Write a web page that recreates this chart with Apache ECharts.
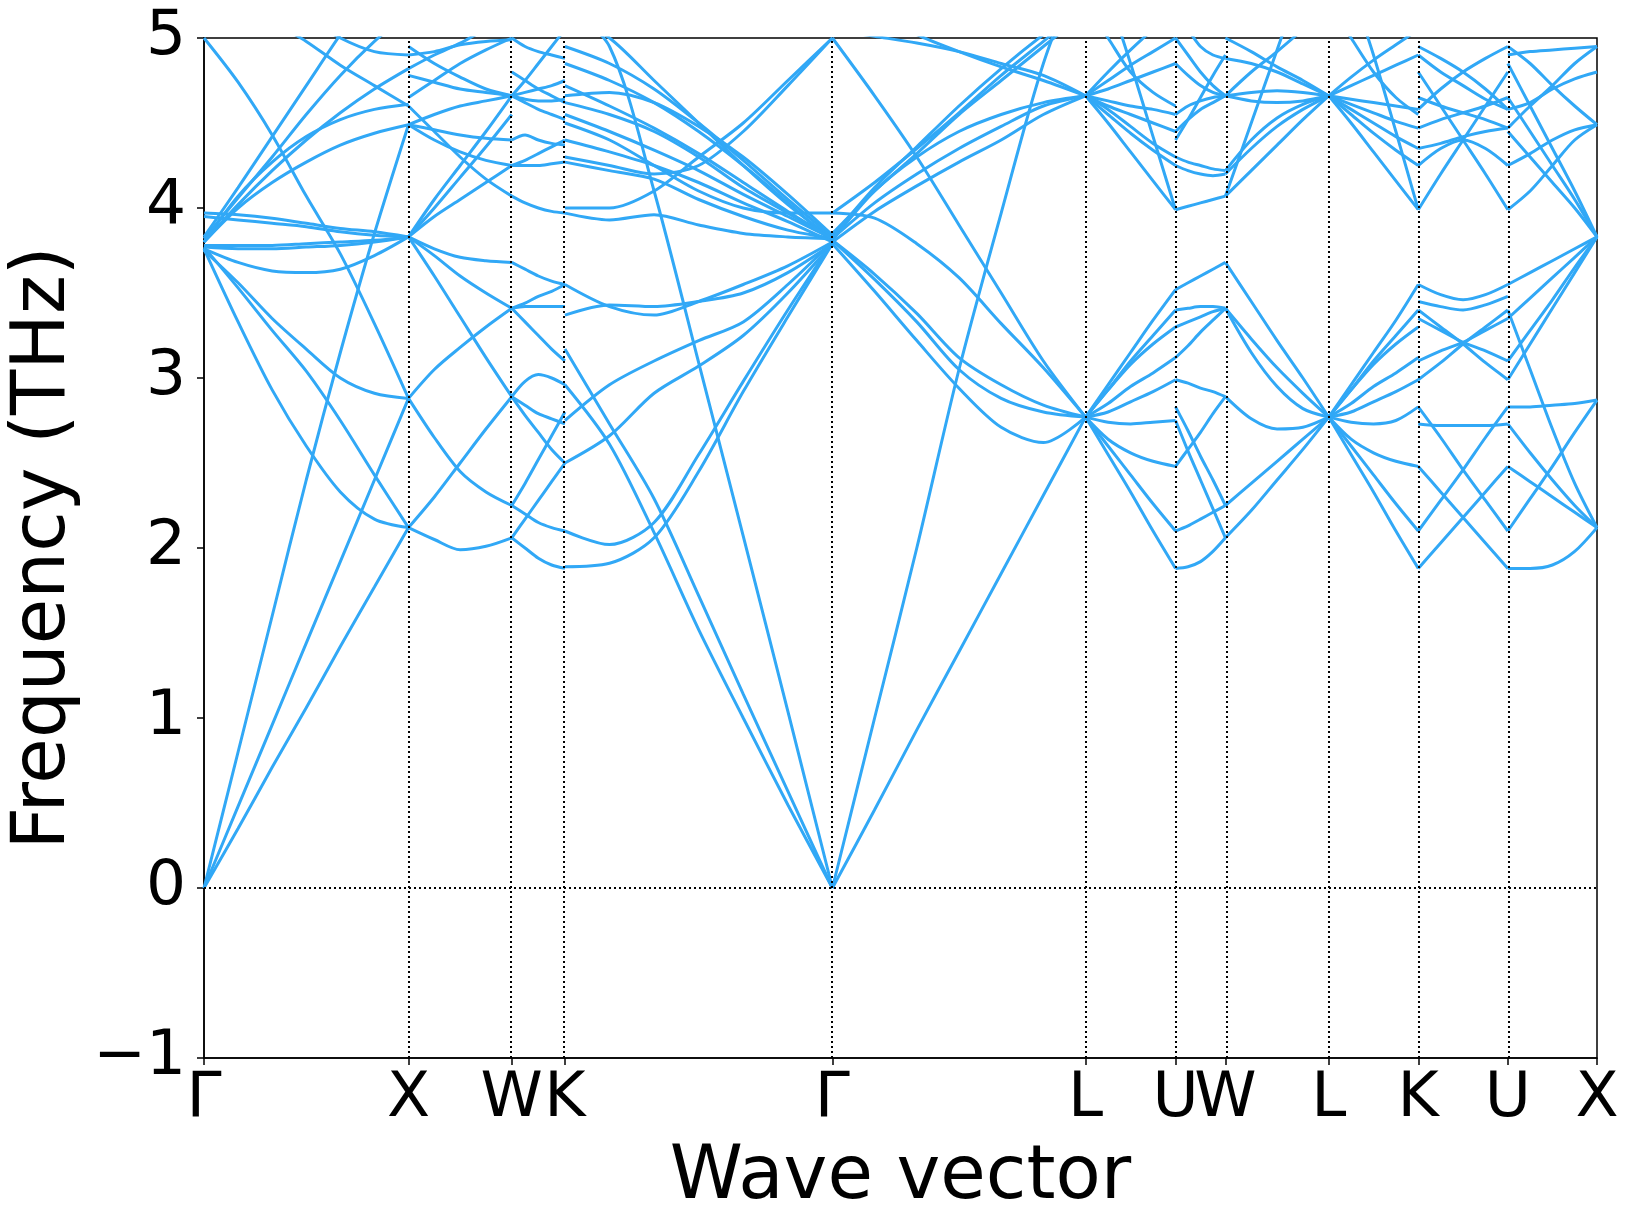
<!DOCTYPE html>
<html>
<head>
  <meta charset="utf-8" />
  <title>Phonon bands</title>
  <script src="https://cdn.jsdelivr.net/npm/echarts@6/dist/echarts.min.js"></script>
</head>
<body style="margin: 0; background: #ffffff">
  <div id="main" style="width: 1635px; height: 1229px;"></div>
  <script type="text/javascript">
    // high-symmetry points along the path (x in units of the G-X length)
    var kLabels = ['\u0393', 'X', 'W', 'K', '\u0393', 'L', 'U', 'W', 'L', 'K', 'U', 'X'];
    var kPos = [0, 1.000, 1.505, 1.765, 3.073, 4.311, 4.751, 4.995, 5.500, 5.938, 6.376, 6.812];

    // frequencies (THz) read at evenly spaced points along each segment
    var bandsGX = [
      [0, 0.35, 0.71, 1.06, 1.42, 1.77, 2.12],
      [0, 0.48, 0.96, 1.44, 1.92, 2.40, 2.88],
      [0, 0.80, 1.60, 2.40, 3.15, 3.85, 4.49],
      [5.0, 4.74, 4.43, 4.07, 3.73, 3.32, 2.88],
      [3.76, 3.33, 2.93, 2.60, 2.33, 2.17, 2.12],
      [3.77, 3.53, 3.28, 3.04, 2.75, 2.43, 2.12],
      [3.75, 3.56, 3.35, 3.17, 3.00, 2.91, 2.88],
      [3.97, 3.96, 3.94, 3.91, 3.88, 3.86, 3.83],
      [3.95, 3.93, 3.91, 3.89, 3.86, 3.84, 3.83],
      [3.78, 3.78, 3.78, 3.79, 3.80, 3.81, 3.83],
      [3.77, 3.76, 3.76, 3.77, 3.78, 3.80, 3.83],
      [3.76, 3.68, 3.63, 3.62, 3.64, 3.72, 3.83],
      [3.80, 4.00, 4.15, 4.27, 4.37, 4.44, 4.49],
      [3.80, 4.07, 4.27, 4.42, 4.52, 4.58, 4.61],
      [3.80, 4.02, 4.22, 4.40, 4.56, 4.70, 4.82],
      [3.82, 4.06, 4.30, 4.55, 4.78, 4.98, 5.15],
      [3.83, 4.12, 4.42, 4.72, 5.02, 5.30, 5.50],
      [5.40, 5.25, 5.10, 4.98, 4.84, 4.72, 4.60],
      [5.50, 5.40, 5.25, 5.12, 5.00, 4.92, 4.90]
    ];
    var bandsXW = [
      [2.12, 2.05, 1.99, 2.01, 2.06],
      [2.12, 2.30, 2.50, 2.70, 2.89],
      [2.88, 2.65, 2.45, 2.33, 2.25],
      [2.88, 3.05, 3.18, 3.30, 3.41],
      [3.83, 3.60, 3.36, 3.12, 2.89],
      [3.83, 3.76, 3.71, 3.69, 3.68],
      [3.83, 3.72, 3.60, 3.50, 3.41],
      [3.83, 3.95, 4.05, 4.15, 4.25],
      [3.83, 4.05, 4.25, 4.45, 4.66],
      [3.83, 4.00, 4.18, 4.36, 4.55],
      [4.49, 4.55, 4.60, 4.63, 4.66],
      [4.60, 4.45, 4.30, 4.17, 4.07],
      [4.49, 4.40, 4.33, 4.28, 4.25],
      [4.78, 4.74, 4.70, 4.68, 4.66],
      [4.95, 4.85, 4.77, 4.70, 4.66],
      [4.65, 4.75, 4.85, 4.93, 5.00],
      [4.82, 4.90, 4.97, 5.05, 5.10],
      [4.90, 4.92, 4.96, 4.98, 4.99],
      [4.49, 4.46, 4.43, 4.41, 4.40]
    ];
    var bandsWK = [
      [2.06, 2.00, 1.94, 1.90, 1.88],
      [2.06, 2.17, 2.28, 2.39, 2.50],
      [2.25, 2.20, 2.15, 2.12, 2.10],
      [2.25, 2.38, 2.52, 2.66, 2.80],
      [2.89, 2.78, 2.68, 2.58, 2.50],
      [2.89, 2.98, 3.02, 3.00, 2.96],
      [2.89, 2.84, 2.79, 2.76, 2.73],
      [3.41, 3.33, 3.25, 3.17, 3.10],
      [3.41, 3.42, 3.42, 3.42, 3.42],
      [3.41, 3.44, 3.48, 3.51, 3.55],
      [3.68, 3.64, 3.60, 3.57, 3.55],
      [4.07, 4.03, 4.00, 3.98, 3.97],
      [4.25, 4.25, 4.25, 4.26, 4.27],
      [4.25, 4.28, 4.32, 4.36, 4.40],
      [4.66, 4.62, 4.58, 4.55, 4.52],
      [4.66, 4.68, 4.70, 4.72, 4.75],
      [4.66, 4.64, 4.63, 4.63, 4.64],
      [4.66, 4.75, 4.85, 4.95, 5.05],
      [5.00, 4.95, 4.92, 4.90, 4.88],
      [4.40, 4.43, 4.40, 4.38, 4.37],
      [4.80, 4.75, 4.70, 4.66, 4.62]
    ];
    var bandsKG = [
      [3.17, 2.73, 2.29, 1.72, 1.14, 0.57, 0],
      [2.96, 2.61, 2.09, 1.52, 1.00, 0.49, 0],
      [5.20, 4.95, 4.10, 3.09, 2.07, 1.04, 0],
      [1.89, 1.91, 2.06, 2.45, 2.92, 3.36, 3.79],
      [2.10, 2.02, 2.15, 2.55, 2.98, 3.40, 3.80],
      [2.50, 2.66, 2.91, 3.07, 3.25, 3.50, 3.79],
      [2.75, 2.96, 3.10, 3.22, 3.33, 3.55, 3.80],
      [3.37, 3.43, 3.42, 3.45, 3.50, 3.62, 3.79],
      [3.55, 3.42, 3.37, 3.45, 3.55, 3.66, 3.80],
      [3.97, 3.93, 3.96, 3.90, 3.85, 3.83, 3.82],
      [4.27, 4.22, 4.17, 4.05, 3.95, 3.87, 3.82],
      [4.40, 4.33, 4.25, 4.15, 4.03, 3.92, 3.80],
      [4.55, 4.45, 4.34, 4.22, 4.08, 3.95, 3.82],
      [4.72, 4.60, 4.47, 4.32, 4.15, 3.98, 3.82],
      [4.85, 4.75, 4.62, 4.45, 4.25, 4.03, 3.80],
      [5.15, 5.00, 4.75, 4.50, 4.25, 4.02, 3.82],
      [4.50, 4.40, 4.25, 4.10, 4.00, 3.97, 3.97],
      [4.30, 4.25, 4.20, 4.25, 4.45, 4.72, 5.00],
      [4.00, 4.00, 4.10, 4.30, 4.50, 4.75, 5.00],
      [4.62, 4.55, 4.45, 4.30, 4.12, 3.97, 3.82],
      [4.95, 4.85, 4.70, 4.50, 4.28, 4.05, 3.83],
      [4.66, 4.68, 4.62, 4.48, 4.30, 4.08, 3.84]
    ];
    var bandsGL = [
      [0, 0.46, 0.93, 1.39, 1.85, 2.31, 2.77],
      [0, 1.00, 2.00, 3.05, 3.97, 4.85, 5.50],
      [3.81, 3.61, 3.38, 3.12, 2.96, 2.84, 2.77],
      [3.81, 3.58, 3.33, 3.05, 2.88, 2.80, 2.77],
      [3.79, 3.51, 3.22, 2.94, 2.71, 2.62, 2.77],
      [3.97, 3.94, 3.79, 3.59, 3.32, 3.06, 2.77],
      [5.00, 4.66, 4.30, 3.90, 3.50, 3.10, 2.77],
      [3.81, 4.10, 4.30, 4.45, 4.55, 4.62, 4.66],
      [3.80, 3.98, 4.13, 4.27, 4.40, 4.55, 4.66],
      [3.82, 4.03, 4.20, 4.35, 4.48, 4.60, 4.66],
      [3.85, 4.10, 4.32, 4.55, 4.75, 4.95, 5.15],
      [3.83, 4.12, 4.36, 4.60, 4.82, 5.02, 5.20],
      [3.97, 4.15, 4.35, 4.56, 4.78, 4.98, 5.18],
      [5.05, 5.01, 4.97, 4.92, 4.85, 4.78, 4.66],
      [5.30, 5.15, 5.02, 4.92, 4.83, 4.75, 4.66]
    ];
    var bandsLU = [
      [2.77, 2.55, 2.33, 2.10, 1.88],
      [2.77, 2.60, 2.43, 2.26, 2.10],
      [2.77, 2.64, 2.56, 2.51, 2.48],
      [2.77, 2.74, 2.73, 2.74, 2.75],
      [2.77, 2.80, 2.86, 2.92, 2.99],
      [2.77, 2.85, 2.95, 3.03, 3.12],
      [2.77, 2.93, 3.08, 3.20, 3.30],
      [2.77, 2.93, 3.10, 3.25, 3.40],
      [2.77, 2.96, 3.15, 3.34, 3.52],
      [4.66, 4.50, 4.33, 4.16, 3.99],
      [4.66, 4.55, 4.44, 4.34, 4.25],
      [4.66, 4.58, 4.48, 4.38, 4.30],
      [4.66, 4.60, 4.55, 4.50, 4.45],
      [4.66, 4.63, 4.60, 4.58, 4.55],
      [4.66, 4.70, 4.75, 4.80, 4.85],
      [4.66, 4.75, 4.84, 4.92, 5.00],
      [4.66, 4.80, 4.93, 5.05, 5.15],
      [5.60, 5.25, 4.85, 4.42, 3.99],
      [5.20, 5.00, 4.80, 4.68, 4.60]
    ];
    var bandsUW = [
      [1.88, 1.89, 1.92, 1.98, 2.06],
      [2.10, 2.13, 2.17, 2.21, 2.25],
      [2.48, 2.58, 2.68, 2.79, 2.89],
      [2.83, 2.69, 2.54, 2.40, 2.25],
      [2.75, 2.57, 2.40, 2.23, 2.06],
      [2.99, 2.97, 2.94, 2.92, 2.89],
      [3.12, 3.19, 3.27, 3.34, 3.41],
      [3.30, 3.33, 3.36, 3.39, 3.41],
      [3.40, 3.41, 3.42, 3.42, 3.41],
      [3.52, 3.56, 3.60, 3.64, 3.68],
      [3.99, 4.01, 4.03, 4.05, 4.07],
      [4.25, 4.22, 4.20, 4.19, 4.20],
      [4.30, 4.27, 4.25, 4.23, 4.22],
      [4.45, 4.52, 4.58, 4.62, 4.66],
      [4.55, 4.60, 4.63, 4.65, 4.66],
      [4.85, 4.78, 4.72, 4.68, 4.66],
      [5.00, 4.90, 4.80, 4.72, 4.66],
      [4.40, 4.52, 4.65, 4.78, 4.90],
      [5.15, 5.05, 4.95, 4.90, 4.88]
    ];
    var bandsWL = [
      [3.68, 3.45, 3.22, 3.00, 2.77],
      [3.41, 3.23, 3.06, 2.91, 2.77],
      [3.41, 3.15, 2.95, 2.82, 2.77],
      [2.89, 2.76, 2.70, 2.71, 2.77],
      [2.25, 2.38, 2.51, 2.64, 2.77],
      [2.06, 2.22, 2.40, 2.58, 2.77],
      [4.07, 4.22, 4.37, 4.52, 4.66],
      [4.20, 4.35, 4.48, 4.58, 4.66],
      [4.22, 4.40, 4.53, 4.61, 4.66],
      [4.66, 4.68, 4.69, 4.68, 4.66],
      [4.66, 4.63, 4.62, 4.63, 4.66],
      [4.07, 4.50, 4.93, 5.35, 5.70],
      [5.00, 4.92, 4.83, 4.75, 4.66],
      [4.88, 4.85, 4.80, 4.73, 4.66],
      [4.66, 4.80, 4.92, 5.05, 5.18]
    ];
    var bandsLK = [
      [2.77, 2.55, 2.33, 2.10, 1.88],
      [2.77, 2.60, 2.43, 2.26, 2.10],
      [2.77, 2.64, 2.56, 2.51, 2.48],
      [2.77, 2.74, 2.73, 2.75, 2.83],
      [2.77, 2.80, 2.86, 2.92, 2.99],
      [2.77, 2.85, 2.95, 3.03, 3.12],
      [2.77, 2.93, 3.08, 3.20, 3.30],
      [2.77, 2.93, 3.10, 3.25, 3.40],
      [2.77, 2.96, 3.15, 3.34, 3.55],
      [4.66, 4.50, 4.33, 4.16, 3.99],
      [4.66, 4.55, 4.44, 4.34, 4.25],
      [4.66, 4.58, 4.50, 4.42, 4.35],
      [4.66, 4.61, 4.56, 4.51, 4.47],
      [4.66, 4.64, 4.62, 4.60, 4.58],
      [4.66, 4.72, 4.78, 4.84, 4.90],
      [4.66, 4.77, 4.87, 4.96, 5.05],
      [5.70, 5.30, 4.90, 4.45, 3.99],
      [5.20, 5.00, 4.80, 4.65, 4.55]
    ];
    var bandsKU = [
      [1.88, 2.03, 2.18, 2.33, 2.48],
      [2.48, 2.33, 2.18, 2.03, 1.88],
      [2.10, 2.28, 2.46, 2.65, 2.83],
      [2.83, 2.65, 2.46, 2.28, 2.10],
      [2.73, 2.72, 2.72, 2.72, 2.73],
      [2.99, 3.09, 3.20, 3.30, 3.40],
      [3.40, 3.30, 3.20, 3.09, 2.99],
      [3.10, 3.16, 3.21, 3.28, 3.35],
      [3.35, 3.28, 3.21, 3.16, 3.10],
      [3.55, 3.49, 3.46, 3.49, 3.55],
      [3.45, 3.42, 3.40, 3.43, 3.48],
      [3.99, 4.20, 4.40, 4.60, 4.80],
      [4.80, 4.60, 4.40, 4.20, 3.99],
      [4.25, 4.35, 4.40, 4.35, 4.25],
      [4.35, 4.38, 4.42, 4.45, 4.47],
      [4.47, 4.52, 4.56, 4.60, 4.65],
      [4.65, 4.60, 4.56, 4.52, 4.47],
      [4.58, 4.70, 4.80, 4.88, 4.95],
      [4.95, 4.88, 4.80, 4.70, 4.58],
      [4.90, 4.80, 4.72, 4.64, 4.58]
    ];
    var bandsUX = [
      [1.88, 1.88, 1.90, 1.98, 2.12],
      [2.10, 2.29, 2.48, 2.68, 2.87],
      [2.48, 2.39, 2.30, 2.21, 2.12],
      [2.73, 2.56, 2.40, 2.25, 2.12],
      [3.40, 3.05, 2.70, 2.38, 2.12],
      [2.83, 2.83, 2.84, 2.85, 2.87],
      [2.99, 3.20, 3.41, 3.62, 3.83],
      [3.10, 3.28, 3.46, 3.65, 3.83],
      [3.35, 3.47, 3.59, 3.71, 3.83],
      [3.55, 3.62, 3.69, 3.76, 3.83],
      [3.99, 4.10, 4.25, 4.40, 4.49],
      [4.45, 4.30, 4.15, 4.00, 3.83],
      [4.65, 4.45, 4.25, 4.05, 3.83],
      [4.85, 4.60, 4.35, 4.10, 3.83],
      [4.25, 4.32, 4.40, 4.46, 4.49],
      [4.58, 4.62, 4.70, 4.76, 4.80],
      [4.90, 4.92, 4.93, 4.94, 4.95],
      [4.47, 4.60, 4.72, 4.85, 4.95],
      [4.95, 4.85, 4.72, 4.60, 4.49]
    ];

    var segments = [bandsGX, bandsXW, bandsWK, bandsKG, bandsGL, bandsLU,
                    bandsUW, bandsWL, bandsLK, bandsKU, bandsUX];

    var lineColor = '#31a8f6';
    var fontName = 'DejaVu Sans';

    var series = [];
    segments.forEach(function(bands, s) {
        var x0 = kPos[s], x1 = kPos[s + 1];
        bands.forEach(function(vals) {
            var n = vals.length;
            series.push({
                type: 'line',
                data: vals.map(function(v, i) { return [x0 + (x1 - x0) * i / (n - 1), v]; }),
                showSymbol: false,
                smooth: 0.3,
                silent: true,
                lineStyle: {color: lineColor, width: 3},
                z: 3
            });
        });
    });

    // dotted guide lines at the high-symmetry points and at zero
    series.push({
        type: 'line',
        data: [],
        silent: true,
        markLine: {
            silent: true,
            symbol: 'none',
            label: {show: false},
            lineStyle: {color: '#000000', type: [2, 3], width: 2},
            data: kPos.slice(1, kPos.length - 1).map(function(v) { return {xAxis: v}; })
                .concat([{yAxis: 0}])
        },
        z: 2
    });

    var myChart = echarts.init(document.getElementById('main'), null, {renderer: 'canvas'});
    myChart.setOption({
        animation: false,
        backgroundColor: '#ffffff',
        grid: {
            left: 203, right: 38, top: 38, bottom: 171,
            show: true, borderColor: '#000000', borderWidth: 1.5, backgroundColor: 'transparent'
        },
        xAxis: {
            type: 'value',
            min: 0, max: kPos[kPos.length - 1],
            name: 'Wave vector',
            nameLocation: 'middle',
            nameGap: 84,
            nameTextStyle: {fontFamily: fontName, fontSize: 74, color: '#000000'},
            axisLine: {onZero: false, lineStyle: {color: '#000000', width: 1.5}},
            axisTick: {show: true, length: 7, lineStyle: {color: '#000000', width: 1.5}, customValues: kPos},
            axisLabel: {
                customValues: kPos,
                margin: 10,
                fontFamily: fontName, fontSize: 63, color: '#000000',
                formatter: function(v) {
                    var best = 0;
                    for (var i = 1; i < kPos.length; i++)
                        if (Math.abs(kPos[i] - v) < Math.abs(kPos[best] - v)) best = i;
                    return kLabels[best];
                }
            },
            splitLine: {show: false}
        },
        yAxis: {
            type: 'value',
            min: -1, max: 5, interval: 1,
            name: 'Frequency (THz)',
            nameLocation: 'middle',
            nameGap: 122,
            nameTextStyle: {fontFamily: fontName, fontSize: 74, color: '#000000'},
            axisLine: {show: true, onZero: false, lineStyle: {color: '#000000', width: 1.5}},
            axisTick: {show: true, length: 7, lineStyle: {color: '#000000', width: 1.5}},
            axisLabel: {
                margin: 18,
                fontFamily: fontName, fontSize: 63, color: '#000000',
                formatter: function(v) { return v < 0 ? '\u2212' + Math.abs(v) : String(v); }
            },
            splitLine: {show: false}
        },
        series: series
    });
  </script>
</body>
</html>
